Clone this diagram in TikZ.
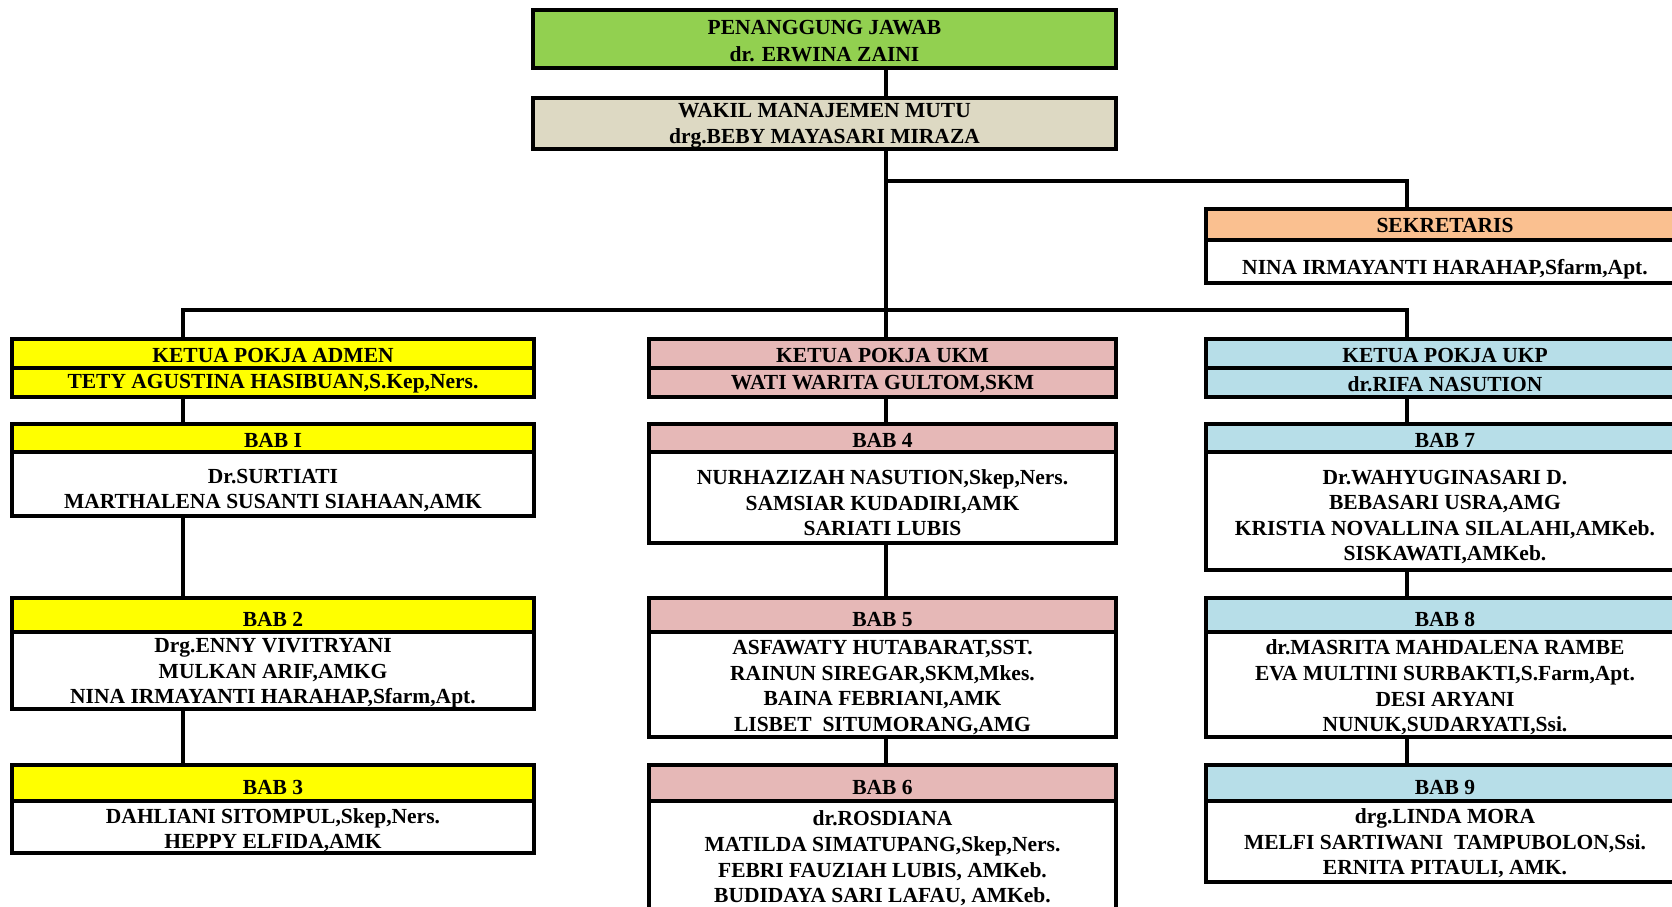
\documentclass[tikz,border=0pt]{standalone}
\usepackage{fontspec}
\setmainfont{Liberation Serif}
\definecolor{cgreen}{HTML}{92D050}
\definecolor{cbeige}{HTML}{DDD9C3}
\definecolor{corange}{HTML}{FAC090}
\definecolor{cyellow}{HTML}{FFFF00}
\definecolor{cpink}{HTML}{E6B8B7}
\definecolor{cblue}{HTML}{B7DEE8}
\begin{document}
\begin{tikzpicture}[x=1pt,y=-1pt,
  bx/.style={draw, line width=3.4pt, inner sep=0pt, outer sep=0pt, anchor=north west},
  colL/.style={bx, minimum width=522pt},
  colC/.style={bx, minimum width=467pt},
  colR/.style={bx, minimum width=478pt},
  tx/.style={inner sep=0pt, align=center, font=\bfseries\fontsize{21.5}{25.6}\selectfont},
  ln/.style={line width=3.4pt},
]
\useasboundingbox (0,0) rectangle (1672,906);
\clip (0,0) rectangle (1672,906);

% ---------- boxes ----------
\node[bx, fill=cgreen, minimum width=583pt, minimum height=58pt] (pj) at (533,10) {};
\node[bx, fill=cbeige, minimum width=583pt, minimum height=51pt] (wmm) at (533,98) {};
\node[colR, fill=corange, minimum height=31pt] (sekh) at (1206,209) {};
\node[colR, fill=white, minimum height=43pt] (sekb) at (1206,240) {};

\node[colL, fill=cyellow, minimum height=29pt] (kadmh) at (12,339) {};
\node[colL, fill=cyellow, minimum height=29pt] (kadmn) at (12,368) {};
\node[colC, fill=cpink, minimum height=29pt] (kukmh) at (649,339) {};
\node[colC, fill=cpink, minimum height=29pt] (kukmn) at (649,368) {};
\node[colR, fill=cblue, minimum height=29pt] (kukph) at (1206,339) {};
\node[colR, fill=cblue, minimum height=29pt] (kukpn) at (1206,368) {};

\node[colL, fill=cyellow, minimum height=28pt] (bab1h) at (12,424) {};
\node[colL, fill=white, minimum height=64pt] (bab1b) at (12,452) {};
\node[colC, fill=cpink, minimum height=28pt] (bab4h) at (649,424) {};
\node[colC, fill=white, minimum height=91pt] (bab4b) at (649,452) {};
\node[colR, fill=cblue, minimum height=28pt] (bab7h) at (1206,424) {};
\node[colR, fill=white, minimum height=118pt] (bab7b) at (1206,452) {};

\node[colL, fill=cyellow, minimum height=34pt] (bab2h) at (12,598) {};
\node[colL, fill=white, minimum height=77pt] (bab2b) at (12,632) {};
\node[colC, fill=cpink, minimum height=34pt] (bab5h) at (649,598) {};
\node[colC, fill=white, minimum height=105pt] (bab5b) at (649,632) {};
\node[colR, fill=cblue, minimum height=34pt] (bab8h) at (1206,598) {};
\node[colR, fill=white, minimum height=105pt] (bab8b) at (1206,632) {};

\node[colL, fill=cyellow, minimum height=36pt] (bab3h) at (12,765) {};
\node[colL, fill=white, minimum height=52pt] (bab3b) at (12,801) {};
\node[colC, fill=cpink, minimum height=36pt] (bab6h) at (649,765) {};
\node[colC, fill=white, minimum height=115pt] (bab6b) at (649,801) {};
\node[colR, fill=cblue, minimum height=36pt] (bab9h) at (1206,765) {};
\node[colR, fill=white, minimum height=81pt] (bab9b) at (1206,801) {};

% ---------- texts ----------
\node[tx, font=\bfseries\fontsize{21.5}{26.6}\selectfont, yshift=-2pt] (pjt) at (pj.center) {PENANGGUNG JAWAB\\dr. ERWINA ZAINI};
\node[tx, yshift=-2.5pt] (wmmt) at (wmm.center) {WAKIL MANAJEMEN MUTU\\drg.BEBY MAYASARI MIRAZA};
\node[tx, yshift=-1pt] (sekht) at (sekh.center) {SEKRETARIS};
\node[tx, yshift=-8pt] (sekbt) at (sekb.center) {NINA IRMAYANTI HARAHAP,Sfarm,Apt.};

\node[tx, yshift=-1.5pt] (kadmht) at (kadmh.center) {KETUA POKJA ADMEN};
\node[tx, yshift=-1.5pt] (kadmnt) at (kadmn.center) {TETY AGUSTINA HASIBUAN,S.Kep,Ners.};
\node[tx, yshift=-1.5pt] (kukmht) at (kukmh.center) {KETUA POKJA UKM};
\node[tx, yshift=-1.5pt] (kukmnt) at (kukmn.center) {WATI WARITA GULTOM,SKM};
\node[tx, yshift=-1.5pt] (kukpht) at (kukph.center) {KETUA POKJA UKP};
\node[tx, yshift=-1.5pt] (kukpnt) at (kukpn.center) {dr.RIFA NASUTION};

\node[tx, yshift=-2pt] (bab1ht) at (bab1h.center) {BAB I};
\node[tx, yshift=-6.5pt] (bab1bt) at (bab1b.center) {Dr.SURTIATI\\MARTHALENA SUSANTI SIAHAAN,AMK};
\node[tx, yshift=-2pt] (bab4ht) at (bab4h.center) {BAB 4};
\node[tx, yshift=-5.5pt] (bab4bt) at (bab4b.center) {NURHAZIZAH NASUTION,Skep,Ners.\\SAMSIAR KUDADIRI,AMK\\SARIATI LUBIS};
\node[tx, yshift=-2pt] (bab7ht) at (bab7h.center) {BAB 7};
\node[tx, yshift=-6pt] (bab7bt) at (bab7b.center) {Dr.WAHYUGINASARI D.\\BEBASARI USRA,AMG\\KRISTIA NOVALLINA SILALAHI,AMKeb.\\SISKAWATI,AMKeb.};

\node[tx, yshift=-4.5pt] (bab2ht) at (bab2h.center) {BAB 2};
\node[tx, yshift=-3pt] (bab2bt) at (bab2b.center) {Drg.ENNY VIVITRYANI\\MULKAN ARIF,AMKG\\NINA IRMAYANTI HARAHAP,Sfarm,Apt.};
\node[tx, yshift=-4.5pt] (bab5ht) at (bab5h.center) {BAB 5};
\node[tx, yshift=-3pt] (bab5bt) at (bab5b.center) {ASFAWATY HUTABARAT,SST.\\RAINUN SIREGAR,SKM,Mkes.\\BAINA FEBRIANI,AMK\\LISBET~~SITUMORANG,AMG};
\node[tx, yshift=-4.5pt] (bab8ht) at (bab8h.center) {BAB 8};
\node[tx, yshift=-3pt] (bab8bt) at (bab8b.center) {dr.MASRITA MAHDALENA RAMBE\\EVA MULTINI SURBAKTI,S.Farm,Apt.\\DESI ARYANI\\NUNUK,SUDARYATI,Ssi.};

\node[tx, yshift=-4pt] (bab3ht) at (bab3h.center) {BAB 3};
\node[tx, yshift=-3pt] (bab3bt) at (bab3b.center) {DAHLIANI SITOMPUL,Skep,Ners.\\HEPPY ELFIDA,AMK};
\node[tx, yshift=-4pt] (bab6ht) at (bab6h.center) {BAB 6};
\node[tx, yshift=0pt] (bab6bt) at (bab6b.center) {dr.ROSDIANA\\MATILDA SIMATUPANG,Skep,Ners.\\FEBRI FAUZIAH LUBIS, AMKeb.\\BUDIDAYA SARI LAFAU, AMKeb.};
\node[tx, yshift=-4pt] (bab9ht) at (bab9h.center) {BAB 9};
\node[tx, yshift=-2pt] (bab9bt) at (bab9b.center) {drg.LINDA MORA\\MELFI SARTIWANI~~TAMPUBOLON,Ssi.\\ERNITA PITAULI, AMK.};

% ---------- connectors ----------
\coordinate (jL) at (183,310);
\coordinate (jC) at (886,310);
\coordinate (jR) at (1407,310);
\coordinate (jS) at (886,181);
\coordinate (sR) at (1407,181);

\draw[ln] (pj.south -| jC) -- (wmm.north -| jC);
\draw[ln] (wmm.south -| jC) -- (kukmh.north -| jC);
\draw[ln] (jS) -- (sR) -- (sekh.north -| sR);
\draw[ln] (kadmh.north -| jL) -- (jL) -- (jR) -- (kukph.north -| jR);

\draw[ln] (kadmn.south -| jL) -- (bab1h.north -| jL);
\draw[ln] (bab1b.south -| jL) -- (bab2h.north -| jL);
\draw[ln] (bab2b.south -| jL) -- (bab3h.north -| jL);

\draw[ln] (kukmn.south -| jC) -- (bab4h.north -| jC);
\draw[ln] (bab4b.south -| jC) -- (bab5h.north -| jC);
\draw[ln] (bab5b.south -| jC) -- (bab6h.north -| jC);

\draw[ln] (kukpn.south -| jR) -- (bab7h.north -| jR);
\draw[ln] (bab7b.south -| jR) -- (bab8h.north -| jR);
\draw[ln] (bab8b.south -| jR) -- (bab9h.north -| jR);
\end{tikzpicture}
\end{document}
